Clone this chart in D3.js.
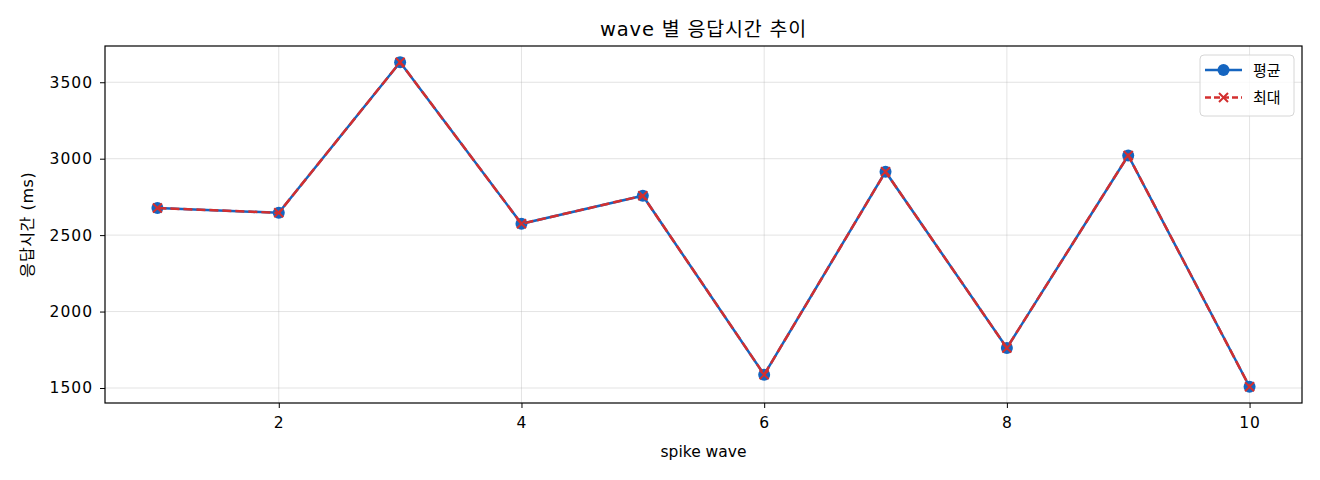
<!DOCTYPE html>
<html>
<head>
<meta charset="utf-8">
<script src="https://cdn.jsdelivr.net/npm/d3@7"></script>
<style>
  html, body { margin: 0; padding: 0; background: #fff; }
  svg text { font-family: "DejaVu Sans", "Noto Sans CJK KR", sans-serif; fill: #000; }
</style>
</head>
<body>
<div id="chart"></div>
<script>
// data
const waves = [1, 2, 3, 4, 5, 6, 7, 8, 9, 10];
const avgMs = [2677, 2646, 3631, 2574, 2758, 1587, 2915, 1762, 3021, 1508];
const maxMs = [2677, 2646, 3631, 2574, 2758, 1587, 2915, 1762, 3021, 1508];
const xTicks = [2, 4, 6, 8, 10];
const yTicks = [1500, 2000, 2500, 3000, 3500];
const seriesNames = ["평균", "최대"];

const W = 1320, H = 480;
const margin = { top: 46, right: 18, bottom: 77, left: 105 };
const innerW = W - margin.left - margin.right;
const innerH = H - margin.top - margin.bottom;

const BLUE = "#1565c0";
const RED = "#d32f2f";

const svg = d3.select("#chart").append("svg")
    .attr("width", W)
    .attr("height", H);

const g = svg.append("g")
    .attr("transform", `translate(${margin.left},${margin.top})`);

// matplotlib-like margins around the data
const allY = avgMs.concat(maxMs);
const yMin = d3.min(allY), yMax = d3.max(allY);
const yPad = (yMax - yMin) * 0.05;
const xPad = (d3.max(waves) - d3.min(waves)) * 0.048;

const x = d3.scaleLinear()
    .domain([d3.min(waves) - xPad, d3.max(waves) + xPad])
    .range([0, innerW]);
const y = d3.scaleLinear()
    .domain([yMin - yPad, yMax + yPad])
    .range([innerH, 0]);

// grid
g.append("g").selectAll("line").data(xTicks).join("line")
    .attr("x1", d => x(d)).attr("x2", d => x(d))
    .attr("y1", 0).attr("y2", innerH)
    .attr("stroke", "#b0b0b0").attr("stroke-opacity", 0.35).attr("stroke-width", 1);
g.append("g").selectAll("line").data(yTicks).join("line")
    .attr("y1", d => y(d)).attr("y2", d => y(d))
    .attr("x1", 0).attr("x2", innerW)
    .attr("stroke", "#b0b0b0").attr("stroke-opacity", 0.35).attr("stroke-width", 1);

// axes
const xAxis = g.append("g")
    .attr("transform", `translate(0,${innerH})`)
    .call(d3.axisBottom(x).tickValues(xTicks).tickFormat(d3.format("d")).tickSize(5).tickPadding(9).tickSizeOuter(0));
const yAxis = g.append("g")
    .call(d3.axisLeft(y).tickValues(yTicks).tickFormat(d3.format("d")).tickSize(5).tickPadding(7).tickSizeOuter(0));
[xAxis, yAxis].forEach(a => {
    a.select(".domain").remove();
    a.selectAll(".tick line").attr("stroke", "#000").attr("stroke-width", 1);
    a.selectAll("text")
        .attr("font-family", "DejaVu Sans, sans-serif")
        .attr("font-size", 15.5)
        .attr("letter-spacing", 1)
        .attr("fill", "#000");
});

// frame
g.append("rect")
    .attr("width", innerW).attr("height", innerH)
    .attr("fill", "none").attr("stroke", "#000").attr("stroke-width", 1.2);

// lines
const line = (vals) => d3.line()
    .x((d, i) => x(waves[i]))
    .y(d => y(d))(vals);

g.append("path")
    .attr("d", line(avgMs))
    .attr("fill", "none").attr("stroke", BLUE).attr("stroke-width", 2.5);
g.append("g").selectAll("circle").data(avgMs).join("circle")
    .attr("cx", (d, i) => x(waves[i])).attr("cy", d => y(d))
    .attr("r", 6).attr("fill", BLUE);

g.append("path")
    .attr("d", line(maxMs))
    .attr("fill", "none").attr("stroke", RED).attr("stroke-width", 2.5)
    .attr("stroke-dasharray", "9,4");

const cross = (cx, cy, s) => `M${cx - s},${cy - s}L${cx + s},${cy + s}M${cx - s},${cy + s}L${cx + s},${cy - s}`;
g.append("g").selectAll("path").data(maxMs).join("path")
    .attr("d", (d, i) => cross(x(waves[i]), y(d), 4.5))
    .attr("stroke", RED).attr("stroke-width", 2).attr("fill", "none");

// title and labels
svg.append("text")
    .attr("x", margin.left + innerW / 2).attr("y", 36)
    .attr("text-anchor", "middle")
    .attr("font-size", 19.5)
    .attr("letter-spacing", 0.8)
    .text("wave 별 응답시간 추이");

svg.append("text")
    .attr("x", margin.left + innerW / 2).attr("y", 457)
    .attr("text-anchor", "middle")
    .attr("font-size", 15.5)
    .text("spike wave");

svg.append("text")
    .attr("transform", `translate(33,${margin.top + innerH / 2}) rotate(-90)`)
    .attr("text-anchor", "middle")
    .attr("font-size", 16)
    .attr("letter-spacing", 0.6)
    .text("응답시간 (ms)");

// legend
const legend = svg.append("g").attr("transform", "translate(1200,55)");
legend.append("rect")
    .attr("width", 94).attr("height", 61).attr("rx", 4)
    .attr("fill", "#fff").attr("fill-opacity", 0.8)
    .attr("stroke", "#d6d6d6").attr("stroke-width", 1);

const rows = [
    { name: seriesNames[0], color: BLUE, dash: null, mark: "circle" },
    { name: seriesNames[1], color: RED, dash: "6,3", mark: "cross" }
];
rows.forEach((r, i) => {
    const cy = 15 + i * 27.5;
    const row = legend.append("g");
    row.append("line")
        .attr("x1", 5).attr("x2", 42).attr("y1", cy).attr("y2", cy)
        .attr("stroke", r.color).attr("stroke-width", 2.5)
        .attr("stroke-dasharray", r.dash);
    if (r.mark === "circle") {
        row.append("circle").attr("cx", 23.5).attr("cy", cy).attr("r", 6).attr("fill", r.color);
    } else {
        row.append("path").attr("d", cross(23.5, cy, 4.5))
            .attr("stroke", r.color).attr("stroke-width", 2).attr("fill", "none");
    }
    row.append("text")
        .attr("x", 53).attr("y", cy + 5.5)
        .attr("font-size", 15)
        .text(r.name);
});
</script>
</body>
</html>
